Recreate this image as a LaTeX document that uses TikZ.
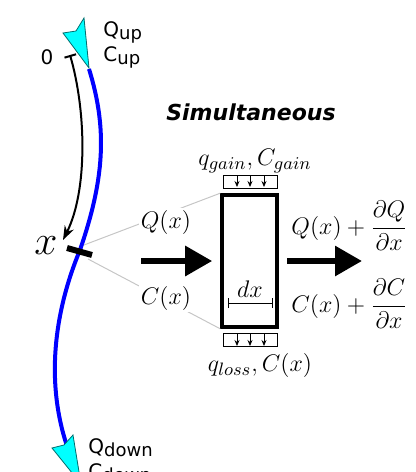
\documentclass[tikz,border=0pt]{standalone}
\usepackage{amsmath}
\usepackage{fontspec}
\newfontfamily\verasans{DejaVu Sans}
\usetikzlibrary{arrows.meta}
\definecolor{inletcyan}{RGB}{0,255,255}
\definecolor{inletedge}{RGB}{0,110,110}
\tikzset{
  mathlbl/.style={font=\fontsize{12.5}{15}\selectfont, inner sep=1pt},
  sanslbl/.style={font=\verasans\fontsize{10}{12}\selectfont, anchor=west, inner sep=0pt},
  flowline/.style={blue, line width=2pt},
  inlet/.style={fill=inletcyan, draw=inletedge, line width=0.4pt},
  bigarrow/.style={line width=3pt, -{Triangle[length=13.5pt,width=14.5pt]}},
  sidebox/.style={draw, line width=0.5pt, minimum width=27pt, minimum height=6.5pt, inner sep=0pt},
  guide/.style={gray!45, line width=0.5pt},
}
\newcommand{\lowsub}[1]{\raisebox{-1.5pt}{\fontsize{9}{10}\selectfont #1}}
\begin{document}
\begin{tikzpicture}[x=0.5pt, y=-0.5pt]
        \useasboundingbox (0,0) rectangle (416,472);
        % ── reach of the river ───────────────────────────────
        \coordinate (up) at (89,69);
        \coordinate (mid) at (80,250);
        \coordinate (down) at (67,446);
        \draw[flowline] (up) .. controls (108,130) and (104,180) .. (mid)
            .. controls (55,310) and (45,380) .. (down);
        \draw[inlet] (89,68) -- (63,33) -- (76,31) -- (84,18) -- cycle;
        \draw[inlet] (81,484) -- (52,448) -- (64,445) -- (73,435) -- cycle;
        \node[sanslbl] (qup) at (103,32) {Q\lowsub{up}};
        \node[sanslbl] (cup) at (103,57) {C\lowsub{up}};
        \node[sanslbl] (qdown) at (88,448) {Q\lowsub{down}};
        \node[sanslbl] (cdown) at (88,473) {C\lowsub{down}};
        % distance along the reach
        \coordinate (zero) at (70,55);
        \coordinate (xpos) at (63,240);
        \node[font=\verasans\fontsize{10}{12}\selectfont] (zlbl) at (47,57) {0};
        \draw[line width=1pt, {Bar[width=6pt]}-{Stealth[length=7pt,width=5pt]}] (zero) .. controls (86,110) and (88,190) .. (xpos);
        \node[font=\fontsize{21}{24}\selectfont] (xlbl) at (46,246) {$x$};
        \coordinate (xl) at (67,248);
        \coordinate (xr) at (92,255);
        \draw[line width=3pt] (xl) -- (xr);
        % ── element dx ───────────────────────────────────────
        \node[font=\verasans\bfseries\itshape\fontsize{11}{13}\selectfont] (title) at (251,112) {Simultaneous};
        \node[draw, line width=1.8pt, minimum width=27.5pt, minimum height=66pt] (seg) at (249.5,261) {};
        \coordinate (gtop) at (84,245);
        \coordinate (gbot) at (88,259);
        \draw[guide] (gtop) -- (seg.north west);
        \draw[guide] (gbot) -- (seg.south west);
        \node[mathlbl, fill=white] (qin) at (166,222) {$Q(x)$};
        \node[mathlbl, fill=white] (cin) at (166,298) {$C(x)$};
        % gain and loss
        \node[sidebox] (gain) at (250,181.5) {};
        \node[sidebox] (loss) at (250,340) {};
        \foreach \x in {237,250,264} {
            \draw[-{Stealth[length=3pt,width=2.5pt]}] (\x,176) -- (\x,187);
            \draw[-{Stealth[length=3pt,width=2.5pt]}] (\x,334) -- (\x,346);
        }
        \node[mathlbl] (gainlbl) at (255,161) {$q_{gain}, C_{gain}$};
        \node[mathlbl] (losslbl) at (260,365) {$q_{loss}, C(x)$};
        % dx inside the element
        \node[mathlbl] (dxlbl) at (250,289) {$dx$};
        \coordinate (dxl) at (228,303);
        \coordinate (dxr) at (273,303);
        \draw[line width=0.4pt, {Bar[width=5pt]}-{Bar[width=5pt]}] (dxl) -- (dxr);
        % in and out
        \coordinate (inl) at (141,261);
        \coordinate (outl) at (287,261);
        \draw[bigarrow] (inl) -- ([xshift=-4pt]seg.west);
        \draw[bigarrow] (outl) -- ++(75,0) coordinate (outr);
        \node[mathlbl, anchor=west] (qout) at (289,226) {$Q(x)+\dfrac{\partial Q}{\partial x}$};
        \node[mathlbl, anchor=west] (cout) at (289,304) {$C(x)+\dfrac{\partial C}{\partial x}$};
\end{tikzpicture}
\end{document}
